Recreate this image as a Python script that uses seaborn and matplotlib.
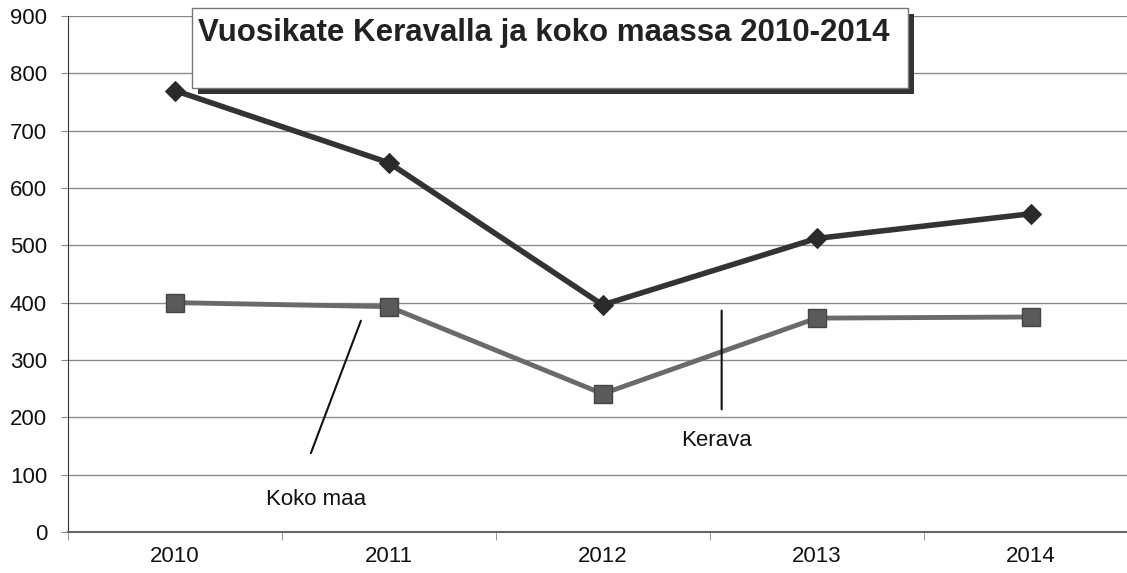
import pandas as pd
import matplotlib.pyplot as plt
import seaborn as sns
from matplotlib.patches import Rectangle

# Chart values
years = ['2010', '2011', '2012', '2013', '2014']
kerava = [770, 644, 396, 512, 555]
koko_maa = [400, 393, 241, 373, 375]
y_ticks = [0, 100, 200, 300, 400, 500, 600, 700, 800, 900]
title = 'Vuosikate Keravalla ja koko maassa 2010-2014'


def create_chart():
    sns.set_style('white')
    plt.rcParams['font.family'] = ['Liberation Sans', 'DejaVu Sans']

    df = pd.DataFrame({'vuosi': years, 'Kerava': kerava, 'Koko maa': koko_maa})

    fig = plt.figure(figsize=(11.27, 5.73), dpi=100)
    ax = fig.add_axes([0.0603, 0.0716, 0.949, 0.9005])

    # Koko maa line (lighter grey, square markers)
    sns.lineplot(data=df, x='vuosi', y='Koko maa', ax=ax, color='#6a6a6a',
                 linewidth=3.5, marker='s', markersize=13,
                 markerfacecolor='#5a5a5a', markeredgecolor='#444444',
                 markeredgewidth=1, zorder=3)
    # Kerava line (dark, diamond markers)
    sns.lineplot(data=df, x='vuosi', y='Kerava', ax=ax, color='#333333',
                 linewidth=4, marker='D', markersize=10,
                 markerfacecolor='#2a2a2a', markeredgecolor='#2a2a2a', zorder=4)

    ax.set_xlim(-0.5, 4.5)
    ax.set_ylim(0, 900)
    ax.set_yticks(y_ticks)
    ax.set_xlabel('')
    ax.set_ylabel('')

    ax.yaxis.grid(True, color='#8a8a8a', linewidth=1)
    ax.xaxis.grid(False)
    for side in ['top', 'right']:
        ax.spines[side].set_visible(False)
    ax.spines['left'].set_color('#333333')
    ax.spines['bottom'].set_color('#666666')
    ax.spines['bottom'].set_linewidth(1.5)

    ax.tick_params(axis='y', labelsize=16, length=5, color='#888888', pad=10,
                   left=True, labelcolor='#111111')
    ax.tick_params(axis='x', which='major', labelsize=16, length=0, pad=10,
                   labelcolor='#111111')
    ax.set_xticks([i + 0.5 for i in range(-1, 5)], minor=True)
    ax.tick_params(axis='x', which='minor', length=6, color='#888888',
                   bottom=True)

    # leader-line labels
    ax.annotate('', xy=(0.874, 373), xytext=(0.631, 133),
                arrowprops=dict(arrowstyle='-', color='#111111', lw=1.5))
    ax.text(0.659, 56, 'Koko maa', fontsize=16, ha='center', va='center',
            color='#111111')
    ax.annotate('', xy=(2.556, 391), xytext=(2.556, 209),
                arrowprops=dict(arrowstyle='-', color='#111111', lw=1.5))
    ax.text(2.53, 159, 'Kerava', fontsize=16, ha='center', va='center',
            color='#111111')

    # title box with shadow
    x0, y0 = 192 / 1127, 1 - 88 / 573
    w, h = 716 / 1127, 80 / 573
    fig.patches.append(Rectangle((x0 + 6 / 1127, y0 - 6 / 573), w, h,
                                 transform=fig.transFigure, facecolor='#333333',
                                 edgecolor='none', zorder=5))
    fig.patches.append(Rectangle((x0, y0), w, h, transform=fig.transFigure,
                                 facecolor='white', edgecolor='#777777',
                                 linewidth=1, zorder=6))
    fig.text(198 / 1127, 1 - 33 / 573, title, fontsize=22.5, fontweight='bold',
             color='#222222', ha='left', va='center', zorder=7)

    fig.savefig('out.png', dpi=100)
    plt.close(fig)


if __name__ == '__main__':
    create_chart()
